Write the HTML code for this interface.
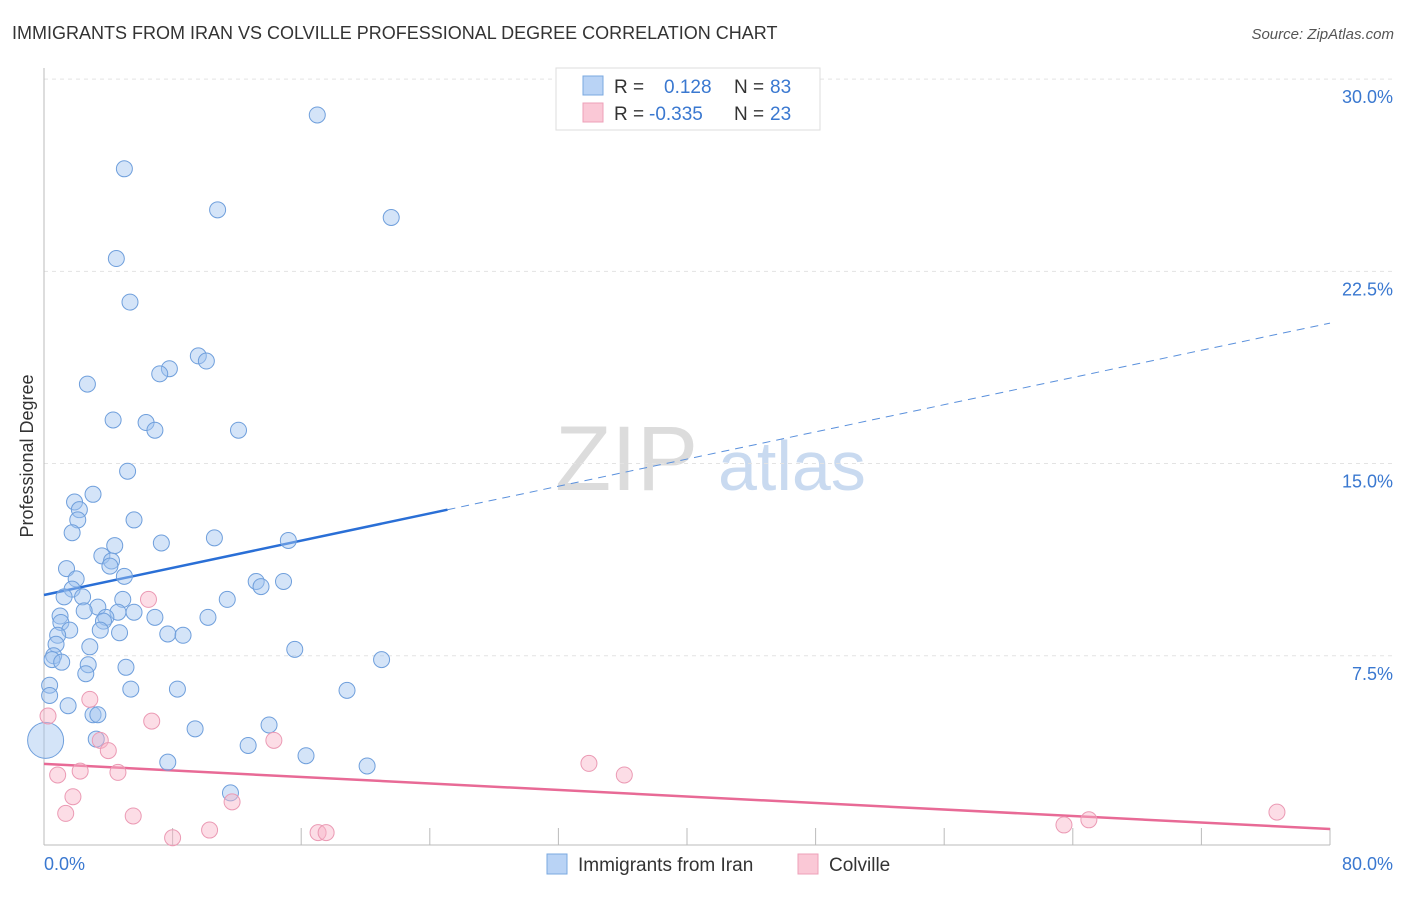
<!DOCTYPE html>
<html><head><meta charset="utf-8"><style>
body{margin:0;background:#fff;font-family:"Liberation Sans",sans-serif;}
svg text{font-family:"Liberation Sans",sans-serif;}
</style></head><body>
<svg id="chart" width="1406" height="892" xmlns="http://www.w3.org/2000/svg">
<text x="12" y="39" font-size="18" fill="#333">IMMIGRANTS FROM IRAN VS COLVILLE PROFESSIONAL DEGREE CORRELATION CHART</text>
<text x="1394" y="39" font-size="15" fill="#555" text-anchor="end" font-style="italic">Source: ZipAtlas.com</text>
<text transform="translate(33,456) rotate(-90)" font-size="18" fill="#333" text-anchor="middle">Professional Degree</text>
<g>
<text x="555" y="490" font-size="92" fill="#dcdcdc" font-family="Liberation Serif,serif">ZIP</text>
<text x="718" y="490" font-size="70" fill="#c9daf0">atlas</text>
</g>
<g id="grid"></g><g id="axes"></g><g id="trend"></g><g id="pts"></g>
<g>
<rect x="556" y="68" width="264" height="62" fill="#fff" stroke="#ddd"/>
<rect x="583" y="76" width="20" height="19" fill="#b9d3f5" stroke="#7aa8e0"/>
<text x="614" y="93" font-size="19" fill="#333">R = </text><text x="664" y="93" font-size="19" fill="#3a78d0">0.128</text>
<text x="734" y="93" font-size="19" fill="#333">N = </text><text x="770" y="93" font-size="19" fill="#3a78d0">83</text>
<rect x="583" y="103" width="20" height="19" fill="#fac8d6" stroke="#eea0b8"/>
<text x="614" y="120" font-size="19" fill="#333">R = </text><text x="649" y="120" font-size="19" fill="#3a78d0">-0.335</text>
<text x="734" y="120" font-size="19" fill="#333">N = </text><text x="770" y="120" font-size="19" fill="#3a78d0">23</text>
</g>
<g>
<rect x="547" y="854" width="20" height="20" fill="#b9d3f5" stroke="#7aa8e0"/>
<text x="578" y="871" font-size="19" fill="#333">Immigrants from Iran</text>
<rect x="798" y="854" width="20" height="20" fill="#fac8d6" stroke="#eea0b8"/>
<text x="829" y="871" font-size="19" fill="#333">Colville</text>
</g>
</svg>
<script>
const blueX=[17.0,5.0,10.8,21.6,4.5,5.35,9.6,10.1,7.8,7.2,2.7,4.3,6.35,6.9,12.1,5.2,3.05,1.9,2.2,2.1,5.6,1.75,15.2,10.6,7.3,4.4,3.6,4.2,4.1,1.4,5.0,2.0,13.2,14.9,13.5,1.75,1.25,2.4,4.9,11.4,3.35,2.5,4.6,5.6,3.85,3.7,1.0,6.9,10.2,1.05,1.6,3.5,4.7,0.85,7.7,8.65,2.85,0.75,15.6,0.6,0.5,1.1,2.75,21.0,5.1,2.6,0.35,5.4,8.3,18.85,0.35,1.5,3.05,3.35,14.0,9.4,3.25,12.7,16.3,7.7,20.1,11.6,0.1];
const blueY=[28.6,26.5,24.9,24.6,23.0,21.3,19.2,19.0,18.7,18.5,18.1,16.7,16.6,16.3,16.3,14.7,13.8,13.5,13.2,12.8,12.8,12.3,12.0,12.1,11.9,11.8,11.4,11.2,11.0,10.9,10.6,10.5,10.4,10.4,10.2,10.1,9.8,9.8,9.7,9.7,9.4,9.25,9.2,9.2,9.0,8.85,9.05,9.0,9.0,8.8,8.5,8.5,8.4,8.3,8.35,8.3,7.85,7.95,7.75,7.5,7.35,7.25,7.15,7.35,7.05,6.8,6.35,6.2,6.2,6.15,5.95,5.55,5.2,5.2,4.8,4.65,4.25,4.0,3.6,3.35,3.2,2.15,4.2];
const pinkX=[6.5,2.85,0.25,6.7,3.5,4.0,14.3,0.85,2.25,4.6,33.9,36.1,1.8,11.7,1.35,5.55,10.3,17.05,17.55,8.0,63.45,65.0,76.7];
const pinkY=[9.7,5.8,5.15,4.95,4.2,3.8,4.2,2.85,3.0,2.95,3.3,2.85,2.0,1.8,1.35,1.25,0.7,0.6,0.6,0.4,0.9,1.1,1.4];
const yTicks=[7.5,15.0,22.5,30.0];
const blueTrend=[9.87,20.48];
const pinkTrend=[3.28,0.74];
const xLabels=["0.0%","80.0%"];
const NS="http://www.w3.org/2000/svg";
const sx=v=>44+v*16.075, sy=v=>848-v*25.63;
function mk(tag,attrs,parent){const e=document.createElementNS(NS,tag);for(const k in attrs)e.setAttribute(k,attrs[k]);document.getElementById(parent).appendChild(e);return e;}
yTicks.forEach(t=>{
 const l=mk('line',{x1:44,x2:1394,y1:sy(t),y2:sy(t),stroke:'#e3e3e3','stroke-dasharray':'4,4'},'grid');
 
 
 const tx=mk('text',{x:1393,y:sy(t)+24,'font-size':18,fill:'#3a78d0','text-anchor':'end'},'grid');
 tx.textContent=t.toFixed(1)+'%';
 
 
});
const ax=mk('line',{x1:44,x2:44,y1:68,y2:845,stroke:'#bbb'},'axes');


const bx=mk('line',{x1:44,x2:1330,y1:845,y2:845,stroke:'#bbb'},'axes');


for(let i=0;i<=10;i++){
 const t=mk('line',{x1:sx(i*8),x2:sx(i*8),y1:828,y2:845,stroke:'#bbb'},'axes');
 
 
}
const xl0=mk('text',{x:44,y:870,'font-size':18,fill:'#3a78d0'},'axes');xl0.textContent=xLabels[0];


const xl1=mk('text',{x:1393,y:870,'font-size':18,fill:'#3a78d0','text-anchor':'end'},'axes');xl1.textContent=xLabels[1];


const solidEnd=25.1;
const bs=mk('line',{x1:sx(0),y1:sy(blueTrend[0]),x2:sx(solidEnd),y2:sy(blueTrend[0]+(blueTrend[1]-blueTrend[0])*solidEnd/80),stroke:'#2a6fd6','stroke-width':2.5},'trend');


const bd=mk('line',{x1:sx(solidEnd),y1:sy(blueTrend[0]+(blueTrend[1]-blueTrend[0])*solidEnd/80),x2:sx(80),y2:sy(blueTrend[1]),stroke:'#5a90dc','stroke-width':1,'stroke-dasharray':'8,6'},'trend');


const pl=mk('line',{x1:sx(0),y1:sy(pinkTrend[0]),x2:sx(80),y2:sy(pinkTrend[1]),stroke:'#e86a96','stroke-width':2.5},'trend');


blueX.forEach((x,i)=>{
 const r=i===blueX.length-1?18:8;
 const c=mk('circle',{cx:sx(x),cy:sy(blueY[i]),r:r,fill:'rgba(160,196,240,0.45)',stroke:'#6f9fdc','stroke-width':1},'pts');
 
 
});
pinkX.forEach((x,i)=>{
 const c=mk('circle',{cx:sx(x),cy:sy(pinkY[i]),r:8,fill:'rgba(248,180,200,0.45)',stroke:'#eb9ab4','stroke-width':1},'pts');
 
 
});
</script>
</body></html>
